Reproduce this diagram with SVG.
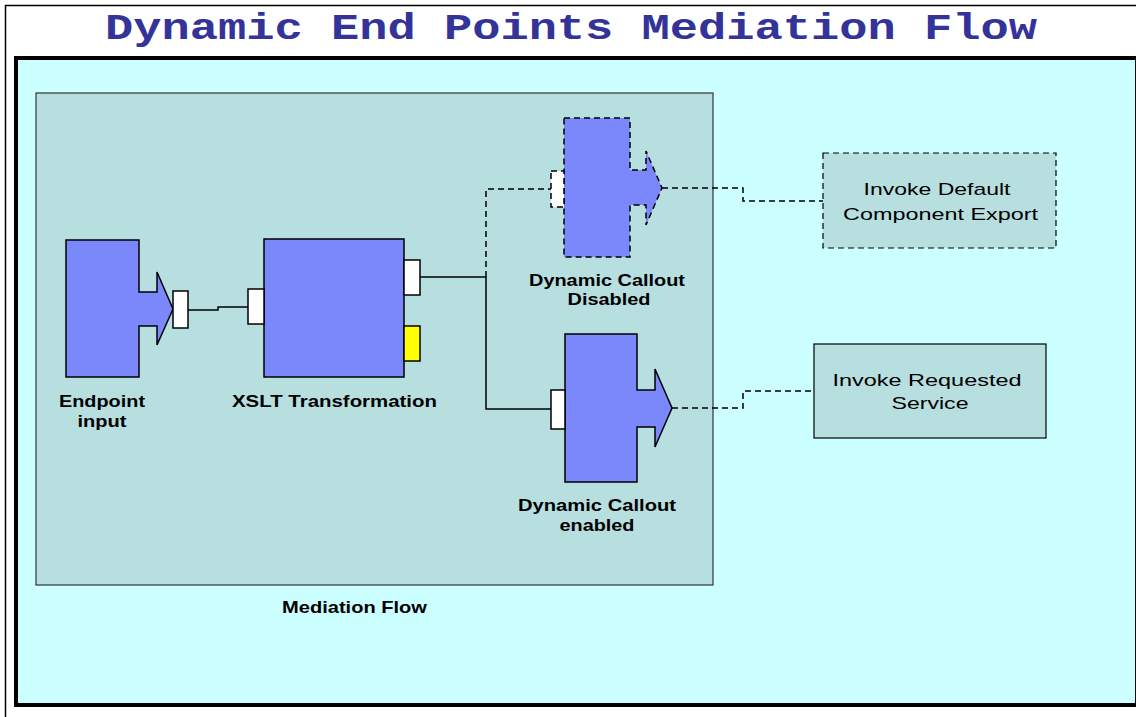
<svg xmlns="http://www.w3.org/2000/svg" width="1136" height="717" viewBox="0 0 1136 717">
<defs>
<style>
.frame{fill:#FFFFFF;stroke:#000;stroke-width:1.5}
.panel{fill:#CCFFFF;stroke:#000;stroke-width:4}
.box{fill:#B8DFE0;stroke:#333;stroke-width:1.2}
.node{fill:#7B88FB;stroke:#000;stroke-width:1.5}
.dash{stroke-dasharray:6,4}
.port{fill:#FFFFFF;stroke:#000;stroke-width:1.5}
.yport{fill:#FFFF00;stroke:#000;stroke-width:1.5}
.ext{fill:#B8DFE0;stroke:#000;stroke-width:1.2}
.wire{fill:none;stroke:#000;stroke-width:1.5}
.title{font-family:"Liberation Mono","Courier New",monospace;font-weight:bold;font-size:37px;fill:#333399}
.lbl{font-family:"Liberation Sans",Arial,sans-serif;font-weight:bold;font-size:17px;fill:#000}
.txt{font-family:"Liberation Sans",Arial,sans-serif;font-size:17px;fill:#000}
</style>
</defs>
<rect class="frame" x="5.5" y="5.5" width="1140" height="720"/>
<text class="title" x="105" y="39" textLength="932" lengthAdjust="spacingAndGlyphs">Dynamic End Points Mediation Flow</text>
<rect class="panel" x="16" y="58" width="1121" height="647"/>
<g id="mediation-flow">
<rect class="box" x="36" y="93" width="677" height="492"/>
<text class="lbl" x="282" y="613" textLength="145" lengthAdjust="spacingAndGlyphs">Mediation Flow</text>
</g>
<g id="connectors">
<path class="wire" d="M188,310 H218 V307 H248"/>
<path class="wire" d="M420,277 H486 V409 H551"/>
<path class="wire dash" d="M486,277 V189 H551"/>
<path class="wire dash" d="M662,188 H743 V201 H823"/>
<path class="wire dash" d="M672,408 H743 V391 H814"/>
</g>
<g id="endpoint-input">
<path class="node" d="M66,240 H139 V292 H157 V272 L173,309 L157,345 V326 H139 V377 H66 Z"/>
<rect class="port" x="173" y="291" width="15" height="37"/>
<text class="lbl" x="102" y="407" text-anchor="middle" textLength="86" lengthAdjust="spacingAndGlyphs">Endpoint</text>
<text class="lbl" x="102" y="427" text-anchor="middle" textLength="49" lengthAdjust="spacingAndGlyphs">input</text>
</g>
<g id="xslt-transformation">
<rect class="node" x="264" y="239" width="140" height="138"/>
<rect class="port" x="248" y="289" width="16" height="35"/>
<rect class="port" x="404" y="260" width="16" height="35"/>
<rect class="yport" x="404" y="326" width="16" height="35"/>
<text class="lbl" x="232" y="407" textLength="205" lengthAdjust="spacingAndGlyphs">XSLT Transformation</text>
</g>
<g id="dynamic-callout-disabled">
<path class="node dash" d="M564,118 H630 V170 H646 V151 L662,188 L646,225 V205 H630 V257 H564 Z"/>
<rect class="port dash" x="551" y="171" width="13" height="36"/>
<text class="lbl" x="529" y="286" textLength="156" lengthAdjust="spacingAndGlyphs">Dynamic Callout</text>
<text class="lbl" x="609" y="305" text-anchor="middle" textLength="83" lengthAdjust="spacingAndGlyphs">Disabled</text>
</g>
<g id="dynamic-callout-enabled">
<path class="node" d="M565,334 H637 V390 H655 V369 L672,408 L655,447 V427 H637 V482 H565 Z"/>
<rect class="port" x="551" y="390" width="14" height="39"/>
<text class="lbl" x="518" y="511" textLength="158" lengthAdjust="spacingAndGlyphs">Dynamic Callout</text>
<text class="lbl" x="597" y="531" text-anchor="middle" textLength="75" lengthAdjust="spacingAndGlyphs">enabled</text>
</g>
<g id="invoke-default-component-export">
<rect class="ext dash" x="823" y="153" width="233" height="95"/>
<text class="txt" x="937" y="195" text-anchor="middle" textLength="147" lengthAdjust="spacingAndGlyphs">Invoke Default</text>
<text class="txt" x="843" y="220" textLength="195" lengthAdjust="spacingAndGlyphs">Component Export</text>
</g>
<g id="invoke-requested-service">
<rect class="ext" x="814" y="344" width="232" height="94"/>
<text class="txt" x="927" y="386" text-anchor="middle" textLength="189" lengthAdjust="spacingAndGlyphs">Invoke Requested</text>
<text class="txt" x="930" y="409" text-anchor="middle" textLength="77" lengthAdjust="spacingAndGlyphs">Service</text>
</g>
</svg>
